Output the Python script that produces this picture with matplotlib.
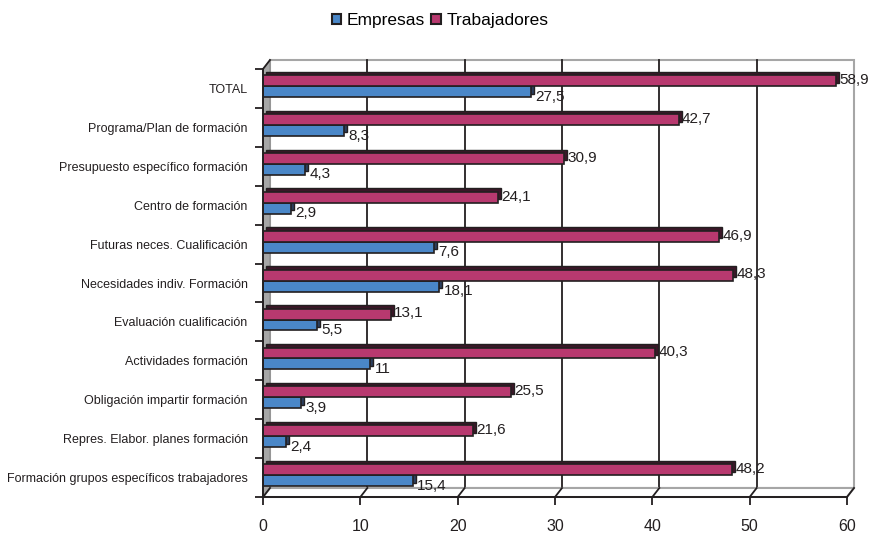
import matplotlib
matplotlib.use("Agg")
import matplotlib.pyplot as plt
from matplotlib.patches import Polygon, Rectangle

categorias = ["TOTAL",
              "Programa/Plan de formación",
              "Presupuesto específico formación",
              "Centro de formación",
              "Futuras neces. Cualificación",
              "Necesidades indiv. Formación",
              "Evaluación cualificación",
              "Actividades formación",
              "Obligación impartir formación",
              "Repres. Elabor. planes formación",
              "Formación grupos específicos trabajadores"]
empresas = [27.5, 8.3, 4.3, 2.9, 17.6, 18.1, 5.5, 11, 3.9, 2.4, 15.4]
etiq_empresas = ["27,5", "8,3", "4,3", "2,9", "7,6", "18,1", "5,5", "11", "3,9", "2,4", "15,4"]
trabajadores = [58.9, 42.7, 30.9, 24.1, 46.9, 48.3, 13.1, 40.3, 25.5, 21.6, 48.2]
etiq_trabajadores = ["58,9", "42,7", "30,9", "24,1", "46,9", "48,3", "13,1", "40,3", "25,5", "21,6", "48,2"]
xticks = [0, 10, 20, 30, 40, 50, 60]

FUENTE = ["Liberation Sans Narrow", "Liberation Sans", "DejaVu Sans"]
plt.rcParams["font.family"] = FUENTE

AZUL = "#4a87c8"
ROJO = "#b8396f"
OSCURO = "#231f20"
GRIS = "#a6a6a6"

fig = plt.figure(figsize=(8.71, 5.33), dpi=100)
L, R, B, T = 263, 847, 497, 69
ax = fig.add_axes([L / 871, (533 - B) / 533, (R - L) / 871, (B - T) / 533])
n = len(categorias)
ax.set_xlim(0, 60)
ax.set_ylim(n, 0)

# profundidad 3D en unidades de datos
px_x = (R - L) / 60.0
px_y = (B - T) / float(n)
DX = 7 / px_x
DY = 9 / px_y
sx = 3 / px_x
sy = 3.5 / px_y

# pared del fondo
ax.add_patch(Rectangle((DX, -DY), 60, n, facecolor="white", edgecolor=GRIS,
                       lw=1.5, clip_on=False, zorder=0))
for x in xticks[1:-1]:
    ax.plot([x + DX, x + DX], [-DY, n - DY], color=OSCURO, lw=1.3,
            clip_on=False, zorder=1)
# pared izquierda
ax.add_patch(Polygon([(0, 0), (DX, -DY), (DX, n - DY), (0, n)], closed=True,
                     facecolor=GRIS, edgecolor="#8a8a8a", lw=0.8,
                     clip_on=False, zorder=1))
# suelo
ax.add_patch(Polygon([(0, n), (60, n), (60 + DX, n - DY), (DX, n - DY)], closed=True,
                     facecolor="white", edgecolor=GRIS, lw=1.5,
                     clip_on=False, zorder=1))
for x in xticks:
    ax.plot([x, x + DX], [n, n - DY], color=OSCURO, lw=1.3, clip_on=False, zorder=2)
ax.plot([0, DX], [0, -DY], color=OSCURO, lw=1.3, clip_on=False, zorder=2)

# barras
h = 0.28
for i in range(n):
    yb = i + 0.58
    yr = i + 0.30
    # empresas
    ax.add_patch(Rectangle((sx, yb - h / 2 - sy), empresas[i], h, facecolor="#2c3f5e",
                           edgecolor=OSCURO, lw=1, zorder=3))
    ax.add_patch(Rectangle((0, yb - h / 2), empresas[i], h, facecolor=AZUL,
                           edgecolor=OSCURO, lw=1.2, zorder=3))
    # trabajadores
    ax.add_patch(Rectangle((sx, yr - h / 2 - sy), trabajadores[i], h, facecolor="#3b1728",
                           edgecolor=OSCURO, lw=1, zorder=4))
    ax.add_patch(Rectangle((0, yr - h / 2), trabajadores[i], h, facecolor=ROJO,
                           edgecolor=OSCURO, lw=1.2, zorder=4))
    ax.text(empresas[i] + 0.45, yb + 0.13, etiq_empresas[i], fontsize=11,
            color=OSCURO, va="center", ha="left", zorder=6)
    ax.text(trabajadores[i] + 0.35, yr - 0.02, etiq_trabajadores[i], fontsize=11,
            color=OSCURO, va="center", ha="left", zorder=6)

# ejes
for s in ["top", "right"]:
    ax.spines[s].set_visible(False)
for s in ["left", "bottom"]:
    ax.spines[s].set_color(OSCURO)
    ax.spines[s].set_linewidth(1.4)
    ax.spines[s].set_zorder(5)
ax.set_xticks(xticks)
ax.set_xticklabels([str(x) for x in xticks], fontsize=11.5, color=OSCURO)
ax.tick_params(axis="x", direction="out", length=6, width=1.3, color=OSCURO, pad=10)
ax.set_yticks(range(n + 1))
ax.set_yticklabels([])
ax.tick_params(axis="y", which="major", direction="out", length=6, width=1.3, color=OSCURO)
ax.set_yticks([i + 0.5 for i in range(n)], minor=True)
ax.set_yticklabels(categorias, minor=True, fontsize=9.0, color=OSCURO)
ax.tick_params(axis="y", which="minor", length=0, pad=11)

# leyenda
hl = [Rectangle((0, 0), 1, 1, facecolor=AZUL, edgecolor=OSCURO, lw=1.5),
      Rectangle((0, 0), 1, 1, facecolor=ROJO, edgecolor=OSCURO, lw=1.5)]
fig.legend(hl, ["Empresas", "Trabajadores"], loc="upper center",
           bbox_to_anchor=(0.505, 1.005), ncol=2, frameon=False, fontsize=12.5,
           handlelength=0.55, handleheight=0.55, handletextpad=0.3, columnspacing=0.4)

fig.savefig("out.png", dpi=100)
